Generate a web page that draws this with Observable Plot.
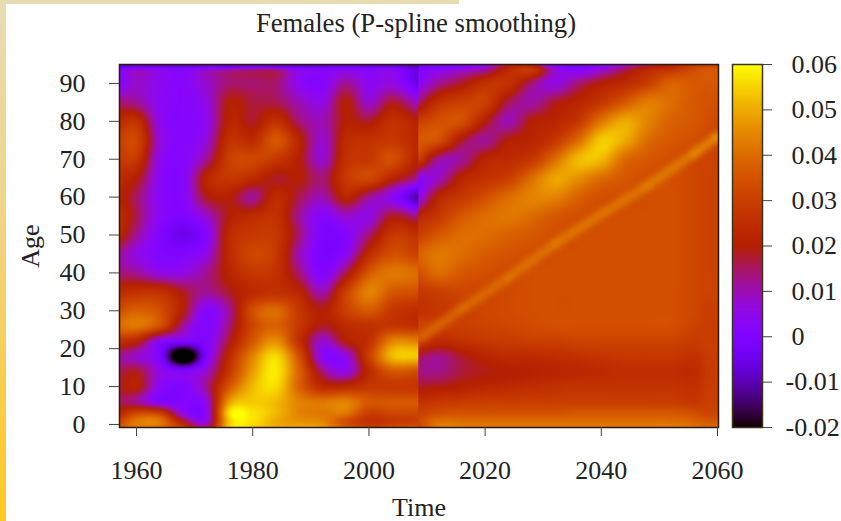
<!DOCTYPE html>
<html>
<head>
<meta charset="utf-8">
<script src="https://cdn.jsdelivr.net/npm/d3@7"></script>
<script src="https://cdn.jsdelivr.net/npm/@observablehq/plot@0.6"></script>
<style>
html,body{margin:0;padding:0;background:#fff;}
#page{position:relative;width:841px;height:521px;overflow:hidden;font-family:"Liberation Serif",serif;color:#222;}
#page svg{position:absolute;left:0;top:0;background:transparent;}
#stripTop{position:absolute;left:0;top:0;width:459px;height:4px;background:#e8dcb2;}
#stripLeft{position:absolute;left:0;top:0;width:6px;height:521px;background:linear-gradient(#e8dcb2,#f0d488 40%,#ffc820);}
#title{position:absolute;left:116px;width:600px;top:7px;text-align:center;font-size:26.7px;line-height:32px;font-weight:normal;margin:0;color:#222;}
</style>
</head>
<body>
<div id="page">
<div id="stripTop"></div><div id="stripLeft"></div>
<h1 id="title">Females (P-spline smoothing)</h1>
</div>
<script>
// Ages of the table rows (top of the panel first)
const ages = [95.5,94.5,93.5,90,85,80,75,70,65,60,55,50,45,40,35,30,26,22,18,14,10,6,3,1,-1];

// Observed period: columns by year
const yearsPast = [1957,1960,1964,1968,1972,1976,1980,1984,1988,1992,1996,2000,2004,2008.5];
const ratesPast = [
[-.014,-.014,-.014,-.014,-.014,-.014,-.014,-.014,-.014,-.014,-.014,-.014,-.014,-.016],
[-.006,-.004,-.005,-.005,-.004,-.004,-.003,-.004,-.005,-.005,-.004,-.005,-.005,-.010],
[.001,.008,.004,.002,.008,.012,.014,.014,.004,.002,.004,.002,.004,-.008],
[.002,.008,.004,.002,.008,.014,.014,.014,.004,.002,.012,.004,.006,-.006],
[.014,.012,.004,.002,.006,.020,.017,.016,.010,.006,.020,.008,.018,.008],
[.024,.026,.005,.002,.005,.022,.018,.026,.014,.010,.020,.018,.026,.020],
[.030,.032,.007,.002,.007,.026,.024,.036,.022,.008,.024,.026,.028,.022],
[.028,.028,.005,.002,.012,.030,.032,.028,.020,.008,.026,.028,.034,.020],
[.024,.020,.004,.002,.022,.028,.024,.018,.020,.014,.028,.032,.022,.012],
[.022,.015,.003,.002,.018,.020,.012,.024,.016,.010,.022,.012,.004,-.012],
[.025,.016,.003,.000,.008,.020,.024,.026,.012,.002,.008,.006,.018,.012],
[.023,.012,.001,-.005,.002,.024,.028,.028,.014,.000,.002,.014,.028,.026],
[.012,.006,.001,.001,.006,.024,.032,.028,.010,-.001,.004,.024,.034,.030],
[.014,.012,.006,.006,.012,.022,.028,.026,.014,.001,.016,.036,.042,.040],
[.024,.026,.026,.018,.012,.018,.024,.026,.022,.010,.030,.044,.036,.034],
[.034,.038,.034,.020,.002,.012,.034,.040,.028,.020,.030,.036,.028,.024],
[.040,.042,.034,.012,.001,.014,.032,.038,.028,.018,.024,.026,.028,.026],
[.026,.022,.004,.001,.001,.018,.036,.046,.026,.008,.020,.026,.044,.044],
[.012,.008,.000,-.032,.000,.024,.044,.056,.034,.004,.006,.030,.052,.054],
[.016,.018,.006,.002,.008,.028,.048,.058,.038,.014,.006,.024,.036,.034],
[.018,.021,.004,.001,.012,.036,.052,.056,.038,.024,.024,.028,.028,.028],
[.016,.012,.002,.001,.006,.048,.054,.052,.044,.042,.044,.036,.036,.036],
[.022,.032,.030,.006,.004,.057,.057,.052,.044,.042,.042,.030,.032,.032],
[.030,.042,.042,.018,.006,.054,.057,.050,.046,.044,.034,.026,.028,.030],
[.036,.042,.040,.030,.015,.055,.055,.050,.050,.048,.036,.030,.034,.036]
];

// Projected period: columns by year
const yearsFuture = [2008.5,2012,2016,2020,2024,2028,2032,2036,2040,2044,2048,2052,2056,2058,2060.2];
const ratesFuture = [
[-.012,-.010,-.008,-.004,.012,.014,-.010,-.012,-.008,.000,.010,.018,.022,.024,.026],
[-.004,-.002,.000,.006,.020,.022,.002,-.002,.002,.010,.018,.022,.030,.032,.032],
[.001,.004,.008,.012,.024,.028,.008,.002,.008,.016,.024,.028,.034,.036,.036],
[.003,.012,.018,.026,.026,.014,.006,.014,.020,.024,.030,.038,.036,.036,.036],
[.014,.026,.030,.030,.016,.011,.018,.022,.028,.036,.043,.040,.036,.035,.034],
[.030,.034,.034,.020,.010,.020,.022,.028,.042,.050,.044,.038,.036,.034,.032],
[.036,.034,.018,.012,.020,.022,.028,.040,.054,.050,.040,.036,.034,.032,.031],
[.030,.012,.012,.022,.024,.028,.040,.052,.052,.040,.036,.034,.032,.031,.031],
[.004,.009,.022,.026,.030,.040,.049,.046,.040,.036,.034,.034,.032,.031,.031],
[.004,.022,.028,.034,.040,.044,.044,.038,.034,.034,.034,.034,.032,.031,.031],
[.022,.028,.036,.040,.042,.040,.036,.034,.034,.034,.034,.034,.032,.031,.031],
[.030,.036,.040,.040,.038,.036,.034,.034,.034,.034,.034,.034,.032,.031,.031],
[.038,.042,.040,.037,.035,.034,.034,.034,.034,.034,.034,.034,.032,.031,.031],
[.034,.040,.036,.034,.033,.034,.034,.034,.034,.034,.034,.034,.032,.031,.031],
[.028,.030,.032,.032,.033,.034,.034,.034,.034,.034,.034,.034,.032,.031,.031],
[.026,.028,.030,.032,.033,.034,.034,.034,.034,.034,.034,.034,.032,.030,.030],
[.032,.030,.030,.031,.032,.033,.034,.034,.034,.034,.034,.034,.031,.030,.030],
[.030,.024,.026,.028,.029,.030,.030,.031,.031,.031,.031,.031,.029,.030,.030],
[.016,.013,.018,.022,.024,.024,.025,.026,.027,.028,.028,.028,.026,.029,.030],
[.013,.013,.017,.019,.020,.021,.022,.023,.024,.025,.025,.025,.024,.028,.030],
[.018,.019,.021,.023,.024,.025,.026,.027,.027,.027,.027,.027,.026,.029,.030],
[.026,.028,.029,.030,.030,.030,.030,.030,.030,.030,.030,.030,.028,.030,.030],
[.030,.034,.035,.035,.035,.035,.035,.036,.036,.036,.036,.036,.034,.032,.032],
[.032,.040,.040,.040,.040,.040,.040,.040,.040,.040,.040,.040,.038,.036,.036],
[.030,.044,.044,.044,.044,.044,.044,.044,.044,.044,.044,.044,.042,.040,.040]
];

// Narrow cohort ridge in the projected period
const ridgeYears  = [2009,2016,2024,2032,2040,2048,2056,2060];
const ridgeAges   = [23,30.5,38.8,47.6,55.5,63,71.5,76];
const ridgeValues = [.041,.042,.043,.044,.044,.045,.047,.050];

const xTicks = [1960,1980,2000,2020,2040,2060];
const yTicks = [0,10,20,30,40,50,60,70,80,90];
const barTicks = [-0.02,-0.01,0,0.01,0.02,0.03,0.04,0.05,0.06];

// gnuplot's default pm3d palette (rgbformulae 7,5,15)
function palette(t){
  const c = v => Math.round(255*Math.max(0,Math.min(1,v)));
  return `rgb(${c(Math.sqrt(t))},${c(t*t*t)},${c(Math.sin(2*Math.PI*t))})`;
}
const colorScale = {type:"linear", domain:[-0.02,0.06], clamp:true, interpolate:palette};

function table(years, rates){
  return ages.flatMap((age,r)=>years.map((year,c)=>({year,age,rate:rates[r][c]})));
}
// Raster interpolator for a rectangular table (smooth Hermite patches between table nodes)
function smooth(nCols){
  return (index,w,h,X,Y,V)=>{
    const nRows = index.length/nCols;
    const gx = d3.range(nCols).map(c=>X[index[c]]);
    const gy = d3.range(nRows).map(r=>Y[index[r*nCols]]);
    const at = (r,c)=>V[index[r*nCols+c]];
    const out = new Float64Array(w*h);
    const seg = (g,p)=>{let i=0;while(i<g.length-2&&p>g[i+1])i++;return i;};
    const herm = (g,f,i,p)=>{
      const n=g.length, h0=g[i+1]-g[i];
      const t=Math.max(0,Math.min(1,(p-g[i])/h0));
      const f0=f(i),f1=f(i+1);
      const m0=i>0?(f1-f(i-1))/(g[i+1]-g[i-1]):(f1-f0)/h0;
      const m1=i<n-2?(f(i+2)-f0)/(g[i+2]-g[i]):(f1-f0)/h0;
      const t2=t*t,t3=t2*t;
      return (2*t3-3*t2+1)*f0+(t3-2*t2+t)*h0*m0+(-2*t3+3*t2)*f1+(t3-t2)*h0*m1;
    };
    for(let j=0;j<h;j++){
      const ry=seg(gy,j+.5);
      for(let i=0;i<w;i++){
        const cx=seg(gx,i+.5);
        out[j*w+i]=herm(gy,r=>herm(gx,c=>at(r,c),cx,i+.5),ry,j+.5);
      }
    }
    return out;
  };
}

const font = "Liberation Serif, serif";
const main = Plot.plot({
  width:841,height:521,marginLeft:119,marginRight:123,marginTop:64,marginBottom:94,
  style:{fontFamily:font,fontSize:"26px",color:"#222",background:"transparent",overflow:"visible"},
  x:{domain:[1957.07,2060.17]},
  y:{domain:[-0.8,95]},
  color:colorScale,
  marks:[
    Plot.raster(table(yearsPast,ratesPast),{x:"year",y:"age",fill:"rate",x1:1956,x2:2010,y1:97,y2:-2,interpolate:smooth(yearsPast.length),imageFilter:"blur(1.3px)",clip:"frame"}),
    Plot.raster(table(yearsFuture,ratesFuture),{x:"year",y:"age",fill:"rate",x1:2008.5,x2:2061,y1:97,y2:-2,interpolate:smooth(yearsFuture.length),clip:"frame"}),
    Plot.line(ridgeYears.map((y,i)=>({year:y,age:ridgeAges[i],rate:ridgeValues[i]})),{x:"year",y:"age",z:()=>"ridge",stroke:"rate",strokeWidth:9,strokeOpacity:0.75,imageFilter:"blur(3px)",clip:"frame"}),
    Plot.frame({stroke:"#2a1a10",strokeWidth:1.5}),
    Plot.axisX({ticks:xTicks,tickFormat:d=>String(d),tickSize:9,tickPadding:24,stroke:"#444",label:"Time",labelAnchor:"center",labelArrow:"none",labelOffset:88,fontSize:26}),
    Plot.axisY({ticks:yTicks,tickFormat:d=>String(d),tickSize:10,tickPadding:24,stroke:"#444",label:"Age",labelAnchor:"center",labelArrow:"none",labelOffset:99,fontSize:26})
  ]
});
document.getElementById("page").appendChild(main);

const bar = Plot.plot({
  width:841,height:521,marginLeft:732,marginRight:79,marginTop:64,marginBottom:94,
  style:{fontFamily:font,fontSize:"26px",color:"#222",background:"transparent",overflow:"visible"},
  x:{domain:[0,1],axis:null},
  y:{domain:[-0.02,0.06]},
  color:colorScale,
  marks:[
    Plot.raster({fill:(x,y)=>y,x1:0,x2:1,y1:0.06,y2:-0.02,pixelSize:1}),
    Plot.frame({stroke:"#3c3418",strokeWidth:1.5}),
    Plot.axisY({anchor:"right",ticks:barTicks.filter(d=>d>=0),tickFormat:d=>String(d),tickSize:9,tickPadding:20,stroke:"#444",label:null,textAnchor:"start",fontSize:26}),
    Plot.axisY({anchor:"right",ticks:barTicks.filter(d=>d<0),tickFormat:d=>String(d),tickSize:9,tickPadding:14,stroke:"#444",label:null,textAnchor:"start",fontSize:26})
  ]
});
document.getElementById("page").appendChild(bar);
</script>
</body>
</html>
